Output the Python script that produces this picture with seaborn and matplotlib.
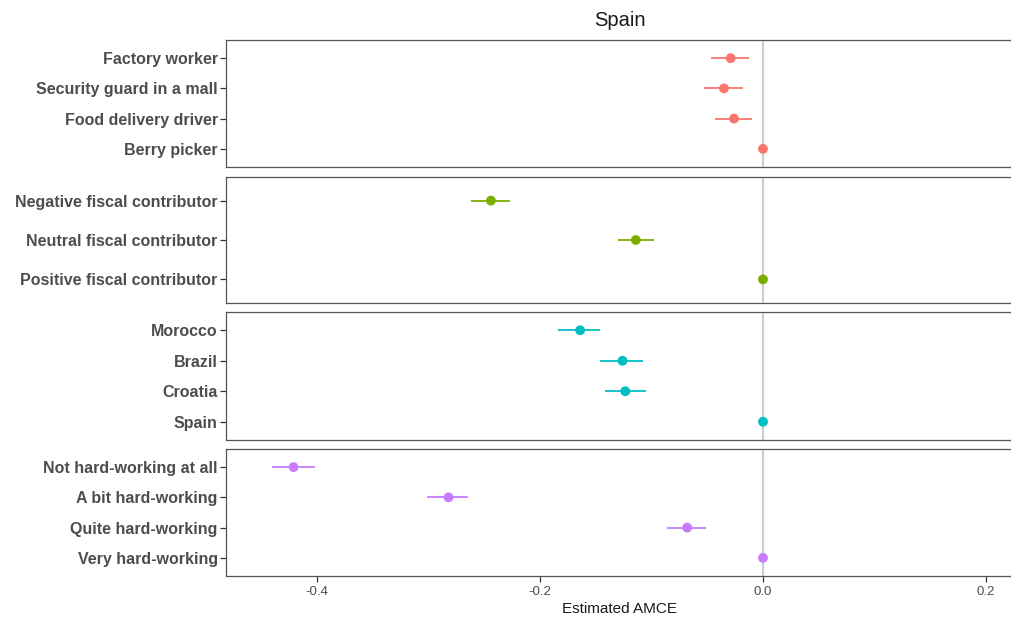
import matplotlib
matplotlib.use("Agg")
import matplotlib.pyplot as plt
import pandas as pd
import seaborn as sns

# Attribute levels and estimated AMCEs with 95% intervals
occupation_labels = ["Factory worker", "Security guard in a mall", "Food delivery driver", "Berry picker"]
occupation_est = [-0.029, -0.035, -0.026, 0.0]
occupation_lo = [-0.047, -0.053, -0.043, 0.0]
occupation_hi = [-0.0125, -0.0175, -0.0095, 0.0]

fiscal_labels = ["Negative fiscal contributor", "Neutral fiscal contributor", "Positive fiscal contributor"]
fiscal_est = [-0.244, -0.114, 0.0]
fiscal_lo = [-0.262, -0.130, 0.0]
fiscal_hi = [-0.227, -0.098, 0.0]

origin_labels = ["Morocco", "Brazil", "Croatia", "Spain"]
origin_est = [-0.164, -0.126, -0.1235, 0.0]
origin_lo = [-0.184, -0.146, -0.1415, 0.0]
origin_hi = [-0.146, -0.108, -0.105, 0.0]

work_labels = ["Not hard-working at all", "A bit hard-working", "Quite hard-working", "Very hard-working"]
work_est = [-0.421, -0.282, -0.068, 0.0]
work_lo = [-0.4405, -0.3015, -0.0865, 0.0]
work_hi = [-0.402, -0.265, -0.051, 0.0]

panel_colors = ["#F8766D", "#7CAE00", "#00BFC4", "#C77CFF"]
x_ticks = [-0.4, -0.2, 0.0, 0.2]
x_tick_labels = ["-0.4", "-0.2", "0.0", "0.2"]

sns.set_theme(style="white")
plt.rcParams["font.family"] = ["Liberation Sans", "DejaVu Sans"]

W, H = 1011, 617
fig = plt.figure(figsize=(W / 100, H / 100), dpi=100)

panel_rows = [(40, 167), (177, 303), (312, 440), (449, 576)]
left_px, right_px = 226, 1013
zero_px, px_per_unit = 763, 1115.0
xlim = ((left_px - zero_px) / px_per_unit, (right_px - zero_px) / px_per_unit)

groups = [
    (occupation_labels, occupation_est, occupation_lo, occupation_hi),
    (fiscal_labels, fiscal_est, fiscal_lo, fiscal_hi),
    (origin_labels, origin_est, origin_lo, origin_hi),
    (work_labels, work_est, work_lo, work_hi),
]

axes = []
for i, ((labels, est, lo, hi), (top, bot), color) in enumerate(zip(groups, panel_rows, panel_colors)):
    ax = fig.add_axes([left_px / W, 1 - bot / H, (right_px - left_px) / W, (bot - top) / H])
    df = pd.DataFrame({"level": labels, "est": est, "lo": lo, "hi": hi})
    df["pos"] = range(1, len(df) + 1)

    ax.axvline(0, color="#CCCCCC", lw=1.5, zorder=1)
    ax.hlines(df["pos"], df["lo"], df["hi"], color=color, lw=1.3, zorder=2)
    sns.scatterplot(data=df, x="est", y="pos", color=color, s=50, edgecolor="none",
                    ax=ax, zorder=3, legend=False)

    ax.set_ylim(len(df) + 0.6, 0.4)
    ax.set_xlim(*xlim)
    ax.set_yticks(df["pos"])
    ax.set_yticklabels(df["level"], fontsize=11.5, fontweight="bold", color="#4D4D4D")
    ax.set_ylabel("")
    ax.tick_params(axis="y", length=4, width=0.9, color="#333333", pad=2, left=True)
    for sp in ax.spines.values():
        sp.set_color("#555555")
        sp.set_linewidth(0.9)
    if i < 3:
        ax.set_xticks([])
        ax.set_xlabel("")
    else:
        ax.set_xticks(x_ticks)
        ax.set_xticklabels(x_tick_labels, fontsize=9.5, color="#4D4D4D")
        ax.tick_params(axis="x", length=4, width=0.9, color="#333333", pad=3, bottom=True)
        ax.set_xlabel("Estimated AMCE", fontsize=11, color="#1A1A1A", labelpad=3)
    axes.append(ax)

fig.text((left_px + right_px) / 2 / W, 1 - 20 / H, "Spain", ha="center", va="center",
         fontsize=14.5, color="#1A1A1A")

fig.savefig("out.png", dpi=100)
